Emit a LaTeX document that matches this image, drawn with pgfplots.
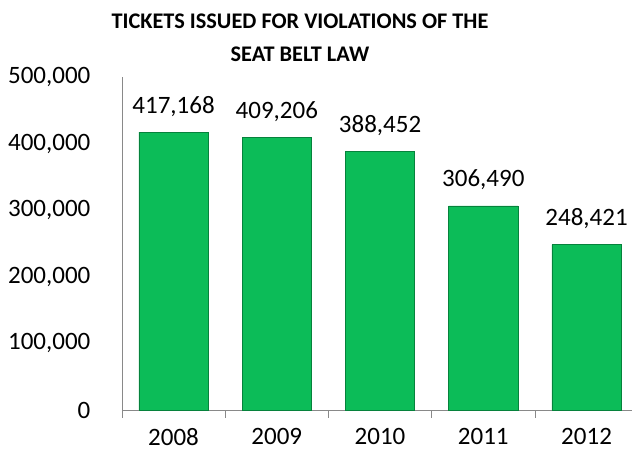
\documentclass[border=0pt]{standalone}
\usepackage{pgfplots}
\pgfplotsset{compat=1.18}
\usepackage{fontspec}
\setmainfont{Carlito}

\definecolor{bargreen}{RGB}{12,188,88}
\definecolor{baredge}{RGB}{6,130,60}
\definecolor{axisgray}{RGB}{137,137,137}

\begin{document}
\begin{tikzpicture}
  \begin{axis}[
      scale only axis,
      width=510pt, height=333pt,
      xmin=-0.5, xmax=4.44, ymin=0, ymax=500000,
      axis x line*=bottom, axis y line*=left,
      axis line style={draw=axisgray, line width=0.8pt},
      ytick={0,100000,200000,300000,400000,500000},
      scaled y ticks=false,
      yticklabel style={/pgf/number format/fixed,
        /pgf/number format/1000 sep={,}, font=\fontsize{25}{29}\selectfont,
        xshift=-20pt},
      /pgf/number format/assume math mode=true,
      ytick style={draw=none},
      xtick={-0.5,0.5,1.5,2.5,3.5},
      xticklabels={},
      x tick style={draw=axisgray, line width=0.8pt},
      tick align=outside,
      major tick length=8pt,
      extra x ticks={0,1,2,3,4},
      extra x tick labels={2008,2009,2010,2011,2012},
      extra x tick style={major tick length=0pt,
        tick label style={font=\fontsize{25}{29}\selectfont, yshift=-15pt}},
      ybar=0pt,
      bar width=0.67,
      nodes near coords,
      nodes near coords style={font=\fontsize{25}{29}\selectfont,
        /pgf/number format/fixed, /pgf/number format/1000 sep={,},
        yshift=12pt},
      clip=false,
    ]
    \addplot[fill=bargreen, draw=baredge, line width=0.6pt] coordinates {
      (0,417168)
      (1,409206)
      (2,388452)
      (3,306490)
      (4,248421)
    };
    \node[align=center, font=\fontsize{22.3}{33}\selectfont\bfseries]
      at (rel axis cs:0.349,1) [yshift=39pt]
      {TICKETS ISSUED FOR VIOLATIONS OF THE\\SEAT BELT LAW};
    \coordinate (bl) at (rel axis cs:-0.239,-0.136);
    \coordinate (tr) at (rel axis cs:1,1.231);
  \end{axis}
  \pgfresetboundingbox
  \path (bl) rectangle (tr);
\end{tikzpicture}
\end{document}
